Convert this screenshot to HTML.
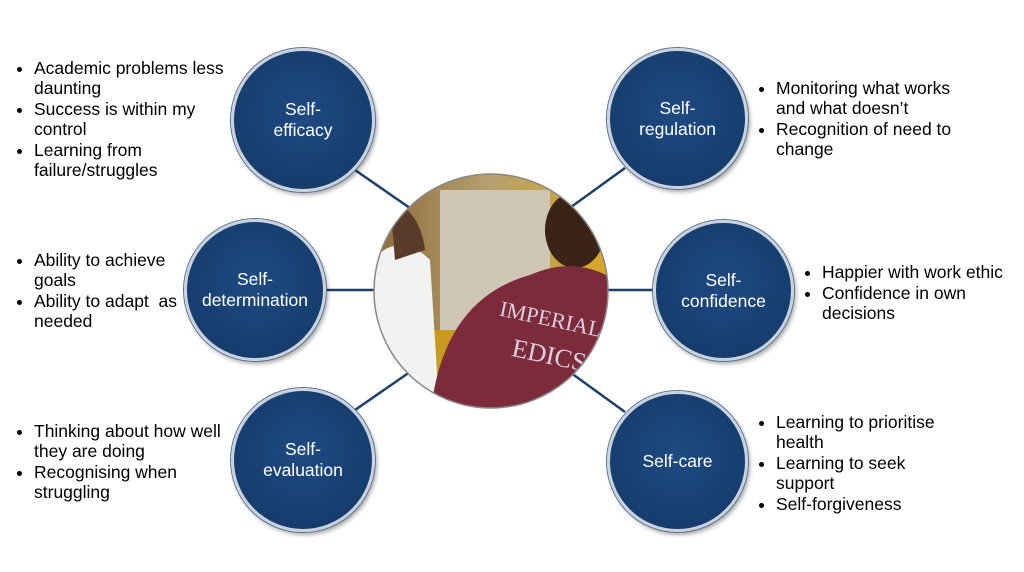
<!DOCTYPE html>
<html><head><style>
body{margin:0;width:1024px;height:572px;background:#fff;position:relative;overflow:hidden;font-family:"Liberation Sans",sans-serif;}
.c{position:absolute;border-radius:50%;background:radial-gradient(circle at 50% 45%,#1f4a80 0%,#163d6e 70%,#12335e 100%);border:3px solid #c9d3df;box-shadow:0 0 0 1px #5a6f8a,2px 3px 4px rgba(0,0,0,.35);color:#fff;font-size:17.5px;text-align:center;display:flex;align-items:center;justify-content:center;line-height:21px;box-sizing:border-box;}
.t{position:absolute;font-size:17.5px;line-height:20px;color:#000;white-space:nowrap;}
.t ul{margin:0;padding:0 0 0 16px;}
.t li{margin-bottom:1px;}
</style></head><body>
<svg width="1024" height="572" style="position:absolute;left:0;top:0">
<g stroke="#1f3f6a" stroke-width="2.5">
<line x1="355" y1="170" x2="420" y2="215"/>
<line x1="625" y1="168" x2="560" y2="215"/>
<line x1="325" y1="290" x2="400" y2="290"/>
<line x1="580" y1="290" x2="655" y2="290"/>
<line x1="355" y1="410" x2="420" y2="365"/>
<line x1="625" y1="412" x2="560" y2="365"/>
</g>
<defs>
<clipPath id="cp"><circle cx="491" cy="291" r="117"/></clipPath>
<linearGradient id="bg" x1="0" y1="0" x2="1" y2="0"><stop offset="0" stop-color="#8a6a3a"/><stop offset=".5" stop-color="#b8a070"/><stop offset="1" stop-color="#d9a81c"/></linearGradient>
</defs>
<g clip-path="url(#cp)">
<rect x="370" y="170" width="245" height="245" fill="url(#bg)"/>
<rect x="440" y="190" width="110" height="150" fill="#cfc6b4"/>
<rect x="410" y="330" width="80" height="90" fill="#c89a20"/>
<path d="M372 260 Q400 230 430 260 L440 420 L372 420Z" fill="#f2f2f0"/>
<path d="M390 200 Q420 210 425 250 L395 260Z" fill="#5a3a2a"/>
<ellipse cx="575" cy="230" rx="30" ry="38" fill="#3a2418"/>
<path d="M430 420 Q440 300 530 275 Q575 255 615 280 L615 420Z" fill="#7d2a3a"/>
<text x="498" y="320" font-family="Liberation Serif" font-size="22" fill="#d9d0e0" transform="rotate(12 520 320)">IMPERIAL</text>
<text x="510" y="362" font-family="Liberation Serif" font-size="26" fill="#d9d0e0" transform="rotate(12 540 362)">EDICS</text>
</g>
<circle cx="491" cy="291" r="117" fill="none" stroke="#888" stroke-width="1.5"/>
</svg>
<div class="c" style="left:231px;top:48px;width:144px;height:144px">Self-<br>efficacy</div>
<div class="c" style="left:607px;top:48px;width:141px;height:141px">Self-<br>regulation</div>
<div class="c" style="left:184px;top:219px;width:142px;height:142px">Self-<br>determination</div>
<div class="c" style="left:653px;top:220px;width:141px;height:141px">Self-<br>confidence</div>
<div class="c" style="left:231px;top:388px;width:144px;height:144px">Self-<br>evaluation</div>
<div class="c" style="left:607px;top:391px;width:141px;height:141px">Self-care</div>
<div class="t" style="left:18px;top:58px"><ul>
<li>Academic problems less<br>daunting</li><li>Success is within my<br>control</li><li>Learning from<br>failure/struggles</li></ul></div>
<div class="t" style="left:760px;top:78px"><ul>
<li>Monitoring what works<br>and what doesn’t</li><li>Recognition of need to<br>change</li></ul></div>
<div class="t" style="left:18px;top:250px"><ul>
<li>Ability to achieve<br>goals</li><li>Ability to adapt&nbsp; as<br>needed</li></ul></div>
<div class="t" style="left:806px;top:262px"><ul>
<li>Happier with work ethic</li><li>Confidence in own<br>decisions</li></ul></div>
<div class="t" style="left:18px;top:421px"><ul>
<li>Thinking about how well<br>they are doing</li><li>Recognising when<br>struggling</li></ul></div>
<div class="t" style="left:760px;top:412px"><ul>
<li>Learning to prioritise<br>health</li><li>Learning to seek<br>support</li><li>Self-forgiveness</li></ul></div>
</body></html>
